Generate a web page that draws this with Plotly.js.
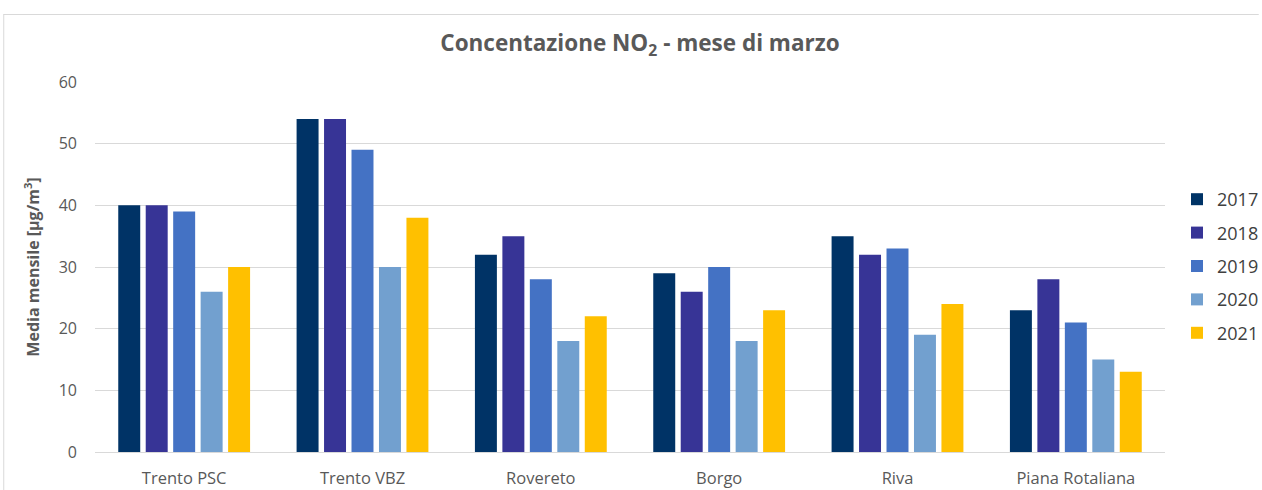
<!DOCTYPE html>
<html>
<head>
<meta charset="utf-8">
<script src="https://cdn.plot.ly/plotly-3.0.1.min.js"></script>
<style>
html,body{margin:0;padding:0;background:#fff;}
#chart{width:1262px;height:490px;}
</style>
</head>
<body>
<div id="chart"></div>
<script>
const stations = ["Trento PSC", "Trento VBZ", "Rovereto", "Borgo", "Riva", "Piana Rotaliana"];
const years = ["2017", "2018", "2019", "2020", "2021"];
const v2017 = [40, 54, 32, 29, 35, 23];
const v2018 = [40, 54, 35, 26, 32, 28];
const v2019 = [39, 49, 28, 30, 33, 21];
const v2020 = [26, 30, 18, 18, 19, 15];
const v2021 = [30, 38, 22, 23, 24, 13];
const yTicks = [0, 10, 20, 30, 40, 50, 60];

const series = [v2017, v2018, v2019, v2020, v2021];
const colors = ["#003366", "#373496", "#4472C4", "#72A0CF", "#FFC000"];

const font = "'Open Sans', 'Noto Sans', sans-serif";

const traces = series.map((vals, i) => ({
  type: "bar",
  name: years[i],
  legendgroup: "g" + i,
  x: stations,
  y: vals,
  marker: {color: colors[i]},
  hoverinfo: "x+y+name"
}));

const W = 1262, H = 490;
const L = 95, R = 1168, T = 82, B = 452;
const px = x => (x - L) / (R - L);
const py = y => (B - y) / (B - T);

const layout = {
  width: W,
  height: H,
  margin: {l: L, r: W - R, t: T, b: H - B},
  paper_bgcolor: "#fff",
  plot_bgcolor: "#fff",
  barmode: "group",
  bargap: 0.23,
  bargroupgap: 0.2,
  font: {family: font, color: "#595959", size: 15},
  title: {
    text: "<b>Concentazione NO<sub>2</sub> - mese di marzo</b>",
    font: {family: font, size: 22.5, color: "#595959"},
    x: 640 / W,
    xanchor: "center",
    y: 1 - 43 / H,
    yanchor: "middle"
  },
  xaxis: {
    type: "category",
    showgrid: false,
    showline: true,
    linecolor: "#d9d9d9",
    linewidth: 1,
    ticks: "",
    tickfont: {family: font, size: 16.5, color: "#595959"},
    ticklabelstandoff: 11,
    zeroline: false,
    automargin: false
  },
  yaxis: {
    range: [0, 60],
    tickvals: yTicks,
    ticktext: yTicks.map(String),
    showgrid: true,
    gridcolor: "#d9d9d9",
    gridwidth: 1,
    zeroline: false,
    showline: false,
    ticks: "",
    ticklabelstandoff: 17,
    tickfont: {family: font, size: 16, color: "#595959"},
    automargin: true,
    title: {
      text: "<b>Media mensile [µg/m<sup>3</sup>]</b>",
      font: {family: font, size: 16, color: "#595959"},
      standoff: 15
    }
  },
  legend: {
    xref: "container",
    yref: "container",
    x: 1177 / W,
    xanchor: "left",
    y: 1 - 181 / H,
    yanchor: "top",
    traceorder: "grouped",
    font: {family: font, size: 18, color: "#404040"},
    tracegroupgap: 7,
    itemwidth: 30,
    bgcolor: "rgba(0,0,0,0)"
  },
  shapes: [
    {type: "line", xref: "paper", yref: "paper", x0: px(3), x1: px(1262), y0: py(14.5), y1: py(14.5), line: {color: "#d9d9d9", width: 1}},
    {type: "line", xref: "paper", yref: "paper", x0: px(3.5), x1: px(3.5), y0: py(14.5), y1: py(490), line: {color: "#d9d9d9", width: 1}}
  ]
};

Plotly.newPlot("chart", traces, layout, {displayModeBar: false, staticPlot: true});
</script>
</body>
</html>
